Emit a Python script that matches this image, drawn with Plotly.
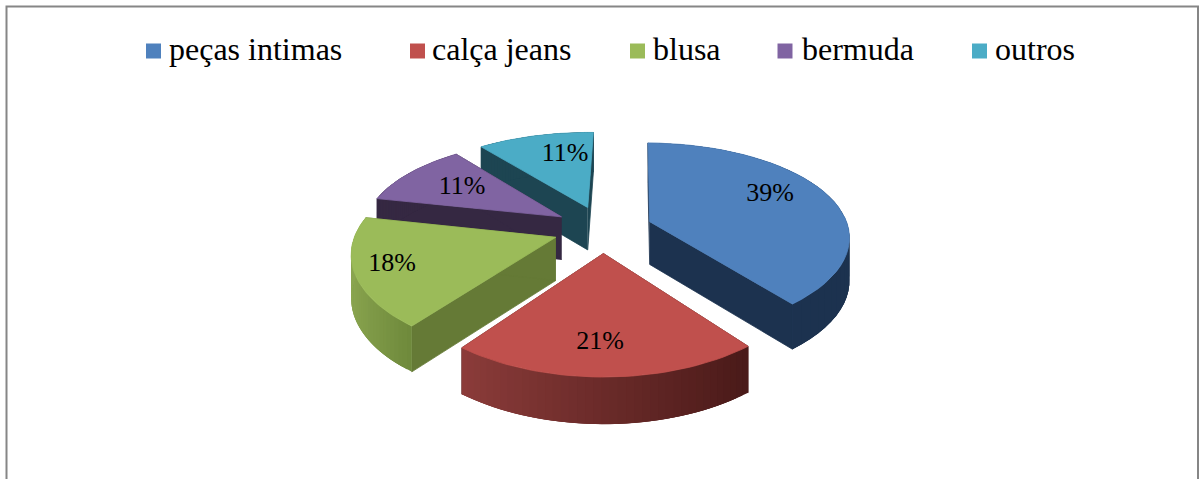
import numpy as np
import plotly.graph_objects as go

categories = ["peças intimas", "calça jeans", "blusa", "bermuda", "outros"]
values = [39, 21, 18, 11, 11]
top_colors = ["#4f81bd", "#c0504d", "#9bbb59", "#8064a2", "#4bacc6"]
cut_colors = ["#1c324f", "#4c1c1b", "#657a36", "#352842", "#1d4552"]
rim_left = ["#1c324f", "#8c3c3a", "#8ba650", "#352842", "#1d4552"]
rim_right = ["#1c324f", "#4a1a19", "#6f8a3c", "#352842", "#1d4552"]

# geometry of the exploded 3D pie (pixel space)
CX, CY, R, RY, K, EXPLODE, DEPTH, ROT = 603, 229, 199, 94, 0.165, 0.25, 43, np.radians(1.3)
LABEL_XY = [(770, 194), (600, 342), (392, 264), (462, 187), (565, 154)]
SWATCH_X = [153.5, 417.5, 637.5, 785, 979.5]
TEXT_X = [169, 432, 653, 802, 995]
LEGEND_Y = 51


def project(u, v, z=0.0):
    s = 1.0 / (1.0 - K * v)
    return CX + R * u * s ** 0.85, CY + RY * v * s + DEPTH * z * s ** 0.4


def hexmix(a, b, t):
    ca = np.array([int(a[i:i + 2], 16) for i in (1, 3, 5)])
    cb = np.array([int(b[i:i + 2], 16) for i in (1, 3, 5)])
    c = (ca + (cb - ca) * t).round().astype(int)
    return "#%02x%02x%02x" % tuple(c)


fig = go.Figure()


def poly(xs, ys, color, width=0.8):
    fig.add_trace(go.Scatter(x=list(xs), y=list(ys), mode="lines", fill="toself",
                             fillcolor=color, line=dict(color=color, width=width),
                             hoverinfo="skip", showlegend=False))


total = sum(values)
edges = ROT + np.concatenate([[0], np.cumsum(values)]) / total * 2 * np.pi
wedges = []
for i in range(len(values)):
    a0, a1 = edges[i], edges[i + 1]
    mid = (a0 + a1) / 2
    ox, oy = EXPLODE * np.sin(mid), -EXPLODE * np.cos(mid)
    wedges.append((i, a0, a1, ox, oy))

# painter's order: back to front
for i, a0, a1, ox, oy in sorted(wedges, key=lambda w: w[4]):
    th = np.linspace(a0, a1, 40)
    us, vs = ox + np.sin(th), oy - np.cos(th)
    # cut faces
    for a in (a0, a1):
        u1, v1 = ox + np.sin(a), oy - np.cos(a)
        p = [project(ox, oy), project(u1, v1), project(u1, v1, 1), project(ox, oy, 1)]
        poly([q[0] for q in p], [q[1] for q in p], cut_colors[i])
    # outer rim: overlapping slices so no seams show
    lo, hi = np.sin(a1), np.sin(a0)
    for j in range(len(th) - 1):
        k = min(j + 3, len(th) - 1)
        fine = np.arange(j, k + 1)
        p = [project(us[n], vs[n]) for n in fine] + [project(us[n], vs[n], 1) for n in fine[::-1]]
        t = 0 if hi == lo else np.clip((np.sin(th[j]) - lo) / (hi - lo), 0, 1)
        poly([q[0] for q in p], [q[1] for q in p], hexmix(rim_left[i], rim_right[i], t), width=0)
    # top face
    tx, ty = project(us, vs)
    ax, ay = project(ox, oy)
    poly(np.r_[ax, tx, ax], np.r_[ay, ty, ay], top_colors[i])

# percentage labels
fig.add_trace(go.Scatter(x=[p[0] for p in LABEL_XY], y=[p[1] for p in LABEL_XY],
                         mode="text", text=[f"{v}%" for v in values],
                         textposition="middle center",
                         textfont=dict(family="Liberation Serif", size=26, color="#000000"),
                         hoverinfo="skip", showlegend=False))

# legend row
fig.add_trace(go.Scatter(x=SWATCH_X, y=[LEGEND_Y] * 5, mode="markers",
                         marker=dict(symbol="square", size=15, color=top_colors),
                         hoverinfo="skip", showlegend=False))
fig.add_trace(go.Scatter(x=TEXT_X, y=[LEGEND_Y + 1] * 5, mode="text", text=categories,
                         textposition="middle right",
                         textfont=dict(family="Liberation Serif", size=32, color="#000000"),
                         hoverinfo="skip", showlegend=False))

fig.add_shape(type="path", path="M 6.5 479 L 6.5 6.5 L 1198 6.5 L 1198 479",
              line=dict(color="#868686", width=2), xref="x", yref="y")

fig.update_layout(width=1199, height=479, margin=dict(l=0, r=0, t=0, b=0),
                  paper_bgcolor="#ffffff", plot_bgcolor="#ffffff", showlegend=False,
                  xaxis=dict(range=[0, 1199], visible=False, fixedrange=True),
                  yaxis=dict(range=[479, 0], visible=False, fixedrange=True))
fig.write_html("out.html", config=dict(displayModeBar=False),
               post_script="document.body.style.margin='0';document.body.style.overflow='hidden';")
